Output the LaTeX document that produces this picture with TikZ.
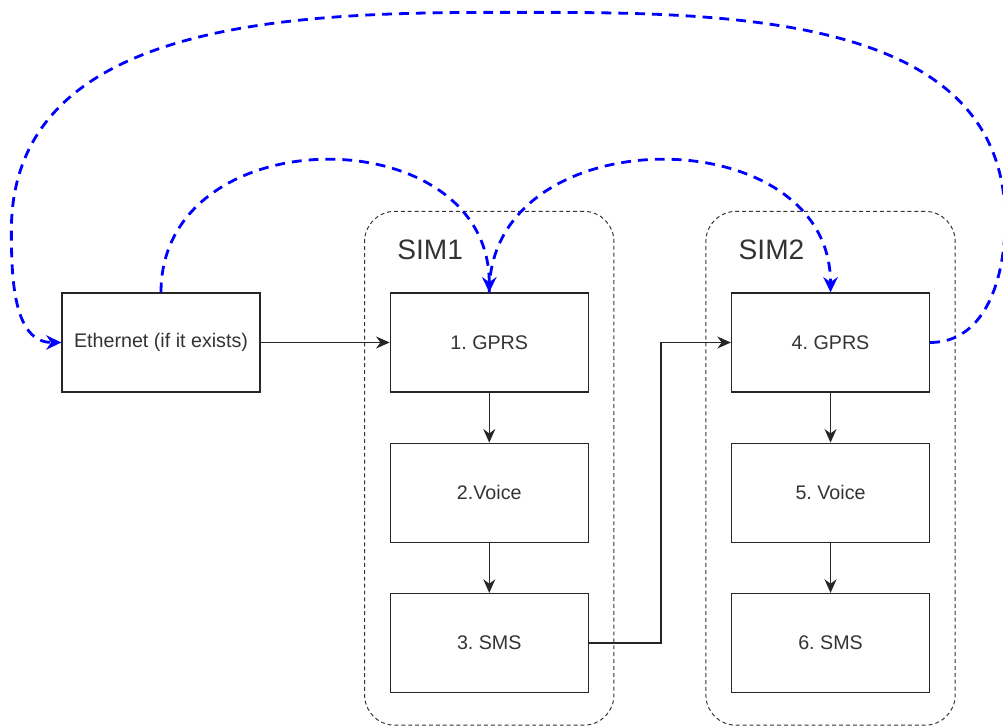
\documentclass[tikz,border=0pt]{standalone}
\usepackage{fontspec}
\setmainfont{Liberation Sans}
\usetikzlibrary{positioning,arrows.meta,calc,fit}
\frenchspacing

\begin{document}
\begin{tikzpicture}[
    font=\fontsize{14}{16}\selectfont,
    stage/.style={draw, black!85, line width=0.9pt, minimum width=4.95cm,
                  minimum height=2.475cm, align=center, text=black!80,
                  inner sep=0pt},
    simgroup/.style={draw, black!80, line width=0.7pt,
                     dash pattern=on 2.8pt off 2.1pt, rounded corners=0.75cm,
                     inner xsep=0.625cm, inner ysep=0pt},
    simlabel/.style={anchor=west, inner sep=0pt, text=black!80,
                     font=\fontsize{20}{24}\selectfont},
    flow/.style={-{Stealth[length=3.4mm,width=3mm]}, black!85, line width=0.9pt},
    fallback/.style={-{Stealth[length=3.8mm,width=3.6mm]}, blue, line width=2pt,
                     dash pattern=on 7pt off 5pt},
  ]
  \useasboundingbox (-4.025,-9.5875) rectangle (21.05,8.5625);

  % --- stages ---
  \node[stage] (eth) {Ethernet (if it exists)};
  \node[stage, right=3.225cm of eth] (gprs1) {1. GPRS};
  \node[stage, below=1.25cm of gprs1] (voice1) {2.Voice};
  \node[stage, below=1.25cm of voice1] (sms1) {3. SMS};
  \node[stage, right=3.55cm of gprs1] (gprs2) {4. GPRS};
  \node[stage, below=1.25cm of gprs2] (voice2) {5. Voice};
  \node[stage, below=1.25cm of voice2] (sms2) {6. SMS};

  % --- SIM groups ---
  \coordinate (top1) at ($(gprs1.north)+(0,2.025)$);
  \coordinate (bot1) at ($(sms1.south)+(0,-0.8)$);
  \node[simgroup, fit=(top1)(bot1)(gprs1)(sms1)] (sim1) {};
  \node[simlabel] (lab1) at ($(sim1.north west)+(0.825,-0.975)$) {SIM1};
  \coordinate (top2) at ($(gprs2.north)+(0,2.025)$);
  \coordinate (bot2) at ($(sms2.south)+(0,-0.8)$);
  \node[simgroup, fit=(top2)(bot2)(gprs2)(sms2)] (sim2) {};
  \node[simlabel] (lab2) at ($(sim2.north west)+(0.825,-0.975)$) {SIM2};

  % --- normal order ---
  \draw[flow] (eth) -- (gprs1);
  \draw[flow] (gprs1) -- (voice1);
  \draw[flow] (voice1) -- (sms1);
  \draw[flow] (sms1.east) -- ++(1.8,0) |- (gprs2.west);
  \draw[flow] (gprs2) -- (voice2);
  \draw[flow] (voice2) -- (sms2);

  % --- fallback loops ---
  \draw[fallback] (eth.north) .. controls +(0,4.4) and +(0,4.4) .. (gprs1.north);
  \draw[fallback] (gprs1.north) .. controls +(0,4.4) and +(0,4.4) .. (gprs2.north);
  \coordinate (loopR) at ($(gprs2.east)+(1.875,3.05)$);
  \coordinate (loopT) at ($(gprs1.north)+(0.3,7.0)$);
  \coordinate (loopL) at ($(eth.west)+(-1.25,2.8)$);
  \draw[fallback] (gprs2.east) to[out=0,in=-90] (loopR) to[out=90,in=0] (loopT)
    to[out=180,in=90] (loopL) to[out=-90,in=180] (eth.west);
\end{tikzpicture}
\end{document}
